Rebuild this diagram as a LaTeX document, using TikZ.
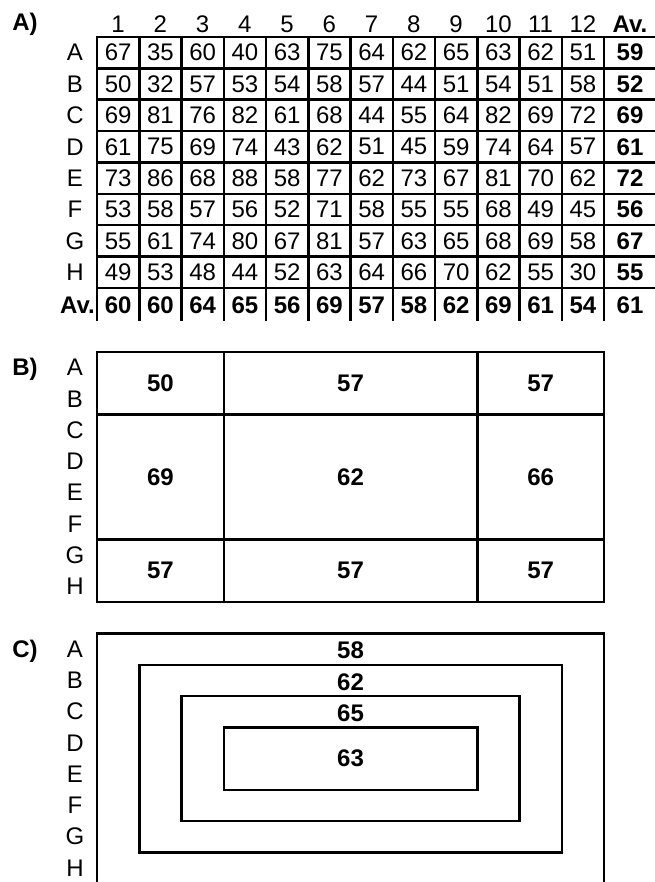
\documentclass[tikz,border=0pt]{standalone}
\usepackage{fontspec}
\setmainfont{Liberation Sans}
\begin{document}
\begin{tikzpicture}[x=1pt,y=-1pt,
  gridline/.style={line width=2.5pt, line cap=rect},
  boxline/.style={line width=2.5pt, line join=miter},
  num/.style={font=\fontsize{24}{28}\selectfont, inner sep=0pt},
  bnum/.style={font=\fontsize{24}{28}\selectfont\bfseries, inner sep=0pt},
  lab/.style={font=\fontsize{24}{28}\selectfont\bfseries, inner sep=0pt}]
\useasboundingbox (0,0) rectangle (654,882);
% ---------------- A ----------------
\node[lab] (labA) at (25,24) {A)};
\foreach \c in {1,...,12}
  \node[num] (h\c) at ({97+(\c-0.5)*42.25},24) {\c};
\node[bnum] (hav) at (630,24) {Av.};
\foreach \L [count=\i] in {A,B,C,D,E,F,G,H}
  \node[num] (ra\L) at (75,{37+(\i-0.5)*31.375}) {\L};
\node[bnum,anchor=east] (raav) at (95,305) {Av.};
\foreach \k in {0,...,8}
  \draw[gridline] (97,{37+\k*31.375}) -- (654,{37+\k*31.375});
\foreach \k in {0,...,12}
  \draw[gridline] ({97+\k*42.25},37) -- ({97+\k*42.25},320);
\foreach \row [count=\i] in {
  {67,35,60,40,63,75,64,62,65,63,62,51,59},
  {50,32,57,53,54,58,57,44,51,54,51,58,52},
  {69,81,76,82,61,68,44,55,64,82,69,72,69},
  {61,75,69,74,43,62,51,45,59,74,64,57,61},
  {73,86,68,88,58,77,62,73,67,81,70,62,72},
  {53,58,57,56,52,71,58,55,55,68,49,45,56},
  {55,61,74,80,67,81,57,63,65,68,69,58,67},
  {49,53,48,44,52,63,64,66,70,62,55,30,55},
  {60,60,64,65,56,69,57,58,62,69,61,54,61}}{
  \foreach \v [count=\j] in \row {
    \pgfmathsetmacro\xx{\j<13 ? 97+(\j-0.5)*42.25 : 630}
    \pgfmathsetmacro\yy{\i<9 ? 37+(\i-0.5)*31.375 : 305}
    \def\st{num}
    \ifnum\j=13 \def\st{bnum}\fi
    \ifnum\i=9 \def\st{bnum}\fi
    \node[\st] (a\i-\j) at (\xx,\yy) {\v};
  }
}
% ---------------- B ----------------
\node[lab] (labB) at (25,369) {B)};
\foreach \L [count=\i] in {A,B,C,D,E,F,G,H}
  \node[num] (rb\L) at (75,{352+(\i-0.5)*31.25}) {\L};
\draw[boxline] (97,352) rectangle (604,602);
\draw[boxline] (223.75,352) -- (223.75,602);
\draw[boxline] (477.25,352) -- (477.25,602);
\draw[boxline] (97,414.5) -- (604,414.5);
\draw[boxline] (97,539.5) -- (604,539.5);
\foreach \v [count=\j] in {50,57,57}
  \node[bnum] (b1-\j) at ({\j==1 ? 160.4 : (\j==2 ? 350.5 : 540.6)},383.25) {\v};
\foreach \v [count=\j] in {69,62,66}
  \node[bnum] (b2-\j) at ({\j==1 ? 160.4 : (\j==2 ? 350.5 : 540.6)},477) {\v};
\foreach \v [count=\j] in {57,57,57}
  \node[bnum] (b3-\j) at ({\j==1 ? 160.4 : (\j==2 ? 350.5 : 540.6)},570.75) {\v};
% ---------------- C ----------------
\node[lab] (labC) at (25,651) {C)};
\foreach \L [count=\i] in {A,B,C,D,E,F,G,H}
  \node[num] (rc\L) at (75,{633.5+(\i-0.5)*31.25}) {\L};
\draw[boxline] (97,633.5) rectangle (604,884.5);
\draw[boxline] (139.25,664.75) rectangle (561.75,852.25);
\draw[boxline] (181.5,696) rectangle (519.5,821);
\draw[boxline] (223.75,727.25) rectangle (477.25,789.75);
\node[bnum] (c1) at (350.5,650.5) {58};
\node[bnum] (c2) at (350.5,681.8) {62};
\node[bnum] (c3) at (350.5,713) {65};
\node[bnum] (c4) at (350.5,758.5) {63};
\end{tikzpicture}
\end{document}
